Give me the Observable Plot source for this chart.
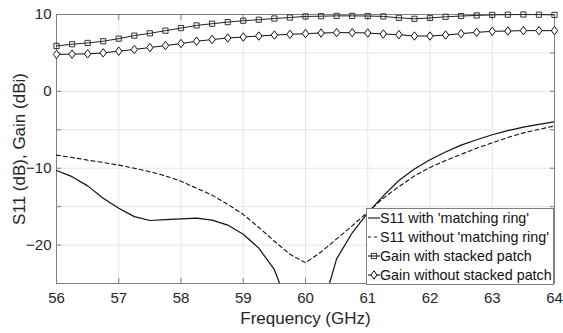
<!DOCTYPE html>
<html>
<head>
<meta charset="utf-8">
<script src="https://cdn.jsdelivr.net/npm/d3@7"></script>
<script src="https://cdn.jsdelivr.net/npm/@observablehq/plot@0.6"></script>
<style>
  body { margin: 0; background: white; }
  #wrap { position: relative; width: 563px; height: 333px; font-family: "Liberation Sans", Arial, sans-serif; }
  #legend { position: absolute; left: 366px; top: 208px; width: 186px; height: 75px; border: 1px solid #7f7f7f; background: white; box-sizing: content-box; }
  .row { display: flex; align-items: center; height: 18.75px; font-size: 14.3px; color: #111; white-space: nowrap; }
  .row svg { flex: none; margin-right: 0px; }
</style>
</head>
<body>
<div id="wrap"><div id="legend"></div></div>
<script>
const freq = [56, 56.25, 56.5, 56.75, 57, 57.25, 57.5, 57.75, 58, 58.25, 58.5, 58.75, 59, 59.25, 59.5, 59.75,
  60, 60.25, 60.5, 60.75, 61, 61.25, 61.5, 61.75, 62, 62.25, 62.5, 62.75, 63, 63.25, 63.5, 63.75, 64];
const s11With = [-10.3, -11.1, -12.3, -13.9, -15.2, -16.3, -16.8, -16.7, -16.6, -16.5, -16.75, -17.4, -18.6, -20.4, -23.2, -28.5,
  -31, -28.8, -21.8, -18.4, -15.8, -13.6, -11.6, -10.1, -8.9, -7.9, -7.0, -6.3, -5.65, -5.1, -4.65, -4.3, -3.95];
const s11Without = [-8.3, -8.6, -8.95, -9.25, -9.6, -10.0, -10.45, -11.0, -11.7, -12.6, -13.5, -14.7, -16.0, -17.7, -19.5, -21.2,
  -22.3, -20.9, -19.2, -17.5, -15.7, -13.9, -12.4, -11.0, -9.9, -9.0, -8.2, -7.4, -6.7, -6.0, -5.4, -4.95, -4.5];
const gainWith = [5.91, 6.13, 6.30, 6.52, 6.86, 7.25, 7.55, 7.90, 8.23, 8.58, 8.80, 9.01, 9.19, 9.32, 9.48, 9.61,
  9.75, 9.78, 9.82, 9.82, 9.80, 9.75, 9.57, 9.44, 9.55, 9.70, 9.80, 9.88, 9.95, 9.98, 10.0, 9.98, 9.95];
const gainWithout = [4.80, 4.84, 4.88, 5.01, 5.23, 5.45, 5.70, 5.96, 6.22, 6.52, 6.74, 6.94, 7.07, 7.20, 7.33, 7.42,
  7.51, 7.59, 7.64, 7.64, 7.59, 7.46, 7.38, 7.20, 7.20, 7.33, 7.51, 7.68, 7.81, 7.85, 7.90, 7.90, 7.90];
const seriesNames = ["S11 with 'matching ring'", "S11 without 'matching ring'", "Gain with stacked patch", "Gain without stacked patch"];
const xTicks = [56, 57, 58, 59, 60, 61, 62, 63, 64];
const yLabelTicks = [-20, -10, 0, 10];
const yMinorTicks = [-25, -20, -15, -10, -5, 0, 5, 10];
const xTitle = "Frequency (GHz)";
const yTitle = "S11 (dB), Gain (dBi)";

const rows = (vals) => freq.map((f, i) => ({f, v: vals[i]}));
const squareSym = { draw(ctx) { const h = 2.6; ctx.moveTo(-h, -h); ctx.lineTo(h, -h); ctx.lineTo(h, h); ctx.lineTo(-h, h); ctx.closePath(); } };
const diamondSym = { draw(ctx) { const w = 3.2, h = 4.2; ctx.moveTo(0, -h); ctx.lineTo(w, 0); ctx.lineTo(0, h); ctx.lineTo(-w, 0); ctx.closePath(); } };

const frameColor = "#808080";
const chart = Plot.plot({
  width: 563, height: 333,
  marginLeft: 56, marginRight: 9, marginTop: 14, marginBottom: 50,
  x: {domain: [56, 64]},
  y: {domain: [-25, 10]},
  style: {fontFamily: "'Liberation Sans', Arial, sans-serif", fontSize: "15px", color: "#262626", background: "white"},
  marks: [
    Plot.gridX({ticks: xTicks, stroke: "#e6e6e6", strokeOpacity: 1}),
    Plot.gridY({ticks: yMinorTicks, stroke: "#e6e6e6", strokeOpacity: 1}),
    Plot.frame({stroke: frameColor}),
    Plot.axisY({anchor: "left", ticks: yMinorTicks, tickSize: -5, fill: "none", label: null, stroke: frameColor}),
    Plot.axisY({anchor: "right", ticks: yMinorTicks, tickSize: -5, fill: "none", label: null, stroke: frameColor}),
    Plot.axisX({anchor: "bottom", ticks: xTicks, tickSize: -5, fill: "none", label: null, stroke: frameColor}),
    Plot.axisX({anchor: "top", ticks: xTicks, tickSize: -5, fill: "none", label: null, stroke: frameColor}),
    Plot.axisY({anchor: "left", ticks: yLabelTicks, tickSize: 0, tickPadding: 5, label: null, fontSize: 15, fill: "#262626"}),
    Plot.axisX({anchor: "bottom", ticks: xTicks, tickSize: 0, tickPadding: 9, label: null, fontSize: 15, fill: "#262626"}),
    Plot.text([xTitle], {frameAnchor: "bottom", dy: 40, fontSize: 17, fill: "#262626"}),
    Plot.text([yTitle], {frameAnchor: "left", textAnchor: "middle", dx: -37, rotate: -90, fontSize: 17, fill: "#262626"}),
    Plot.line(rows(s11Without), {x: "f", y: "v", stroke: "#111", strokeWidth: 1.1, strokeDasharray: "4,3", clip: true}),
    Plot.line(rows(s11With), {x: "f", y: "v", stroke: "#111", strokeWidth: 1.2, clip: true}),
    Plot.line(rows(gainWith), {x: "f", y: "v", stroke: "#222", strokeWidth: 1}),
    Plot.dot(rows(gainWith), {x: "f", y: "v", symbol: squareSym, stroke: "#333", fill: "none", strokeWidth: 1}),
    Plot.line(rows(gainWithout), {x: "f", y: "v", stroke: "#111", strokeWidth: 1}),
    Plot.dot(rows(gainWithout), {x: "f", y: "v", symbol: diamondSym, stroke: "#111", fill: "white", strokeWidth: 1})
  ]
});
const wrap = document.getElementById("wrap");
wrap.insertBefore(chart, wrap.firstChild);

// legend
const legend = document.getElementById("legend");
const legendSamples = [
  {dash: null, marker: null},
  {dash: "3,3", marker: null},
  {dash: null, marker: "square"},
  {dash: null, marker: "diamond"}
];
seriesNames.forEach((name, i) => {
  const s = legendSamples[i];
  const row = document.createElement("div");
  row.className = "row";
  let m = "";
  if (s.marker === "square") m = '<rect x="4.4" y="6.4" width="5.2" height="5.2" fill="none" stroke="#333" stroke-width="1"/>';
  if (s.marker === "diamond") m = '<path d="M7,4.8L10,9L7,13.2L4,9Z" fill="white" stroke="#111" stroke-width="1"/>';
  row.innerHTML = `<svg width="13" height="18"><line x1="1" x2="13" y1="9" y2="9" stroke="#111" stroke-width="1.1" ${s.dash ? `stroke-dasharray="${s.dash}"` : ""}/>${m}</svg><span>${name}</span>`;
  legend.appendChild(row);
});
</script>
</body>
</html>
